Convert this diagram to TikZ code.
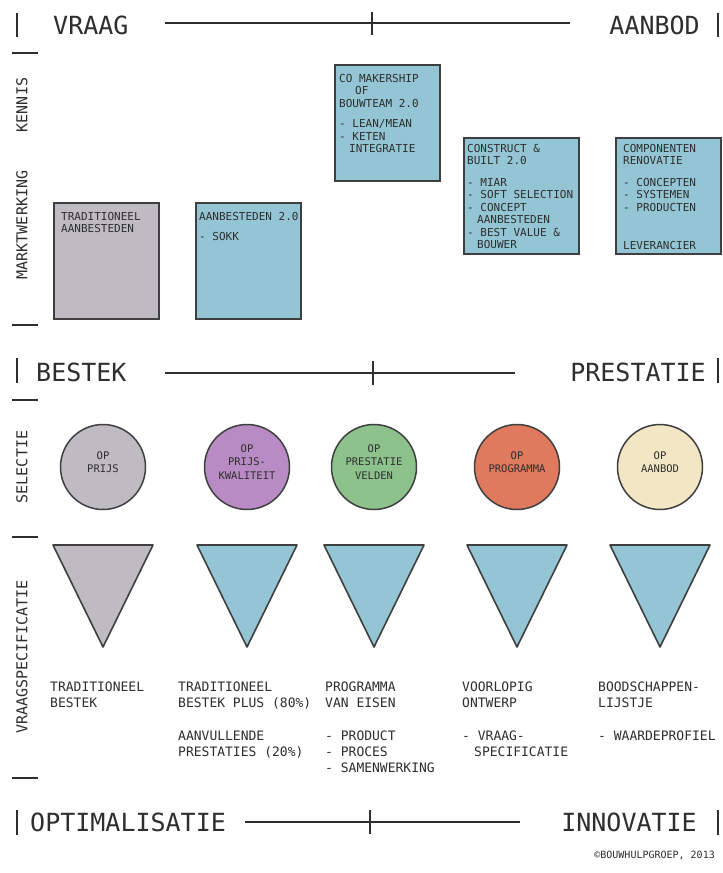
\documentclass[tikz,border=0pt]{standalone}
\usepackage{fontspec}
\setmainfont{DejaVu Sans Mono}
\usetikzlibrary{positioning,calc}

\definecolor{ink}{HTML}{2E2E2E}
\definecolor{edge}{HTML}{3F3F3F}
\definecolor{boxgray}{HTML}{BFBBC3}
\definecolor{boxblue}{HTML}{94C5D4}
\definecolor{selpurple}{HTML}{B98BC4}
\definecolor{selgreen}{HTML}{8DC28D}
\definecolor{selorange}{HTML}{E07A5F}
\definecolor{selcream}{HTML}{F2E6C4}

\tikzset{
  biglabel/.style={inner sep=0pt, text=ink, font=\fontsize{25}{28}\selectfont},
  sidelabel/.style={inner sep=0pt, text=ink, rotate=90, font=\fontsize{15}{17}\selectfont},
  axis/.style={draw=ink, line width=1.6pt},
  frame/.style={draw=edge, line width=2.4pt, anchor=north west, inner sep=0pt,
    minimum width=105pt, minimum height=116pt},
  boxtext/.style={anchor=north west, align=left, inner sep=0pt, text=ink,
    font=\fontsize{11}{12.5}\selectfont},
  selcircle/.style={circle, draw=edge, line width=1.5pt, minimum size=85pt, inner sep=0pt},
  seltext/.style={align=center, inner sep=0pt, text=ink, font=\fontsize{10.5}{13.5}\selectfont},
  tri/.style={draw=edge, line width=1.6pt, line join=round},
  spectext/.style={anchor=north west, align=left, inner sep=0pt, text=ink,
    font=\fontsize{13}{16}\selectfont}
}
\newcommand{\selnode}[4]{\node [selcircle, fill=#3] (#1) at (#2) {};
  \node [seltext] (#1txt) at ([yshift=5pt]#1.center) {#4}}
\newcommand{\spectri}[2]{\draw [tri, fill=#2] ($(#1)+(-50,78)$) -- ($(#1)+(50,78)$) -- ($(#1)+(0,180)$) -- cycle}

\begin{document}
\begin{tikzpicture}[x=1pt,y=-1pt]
\fill[white] (0,0) rectangle (723,873);
\useasboundingbox (0,0) rectangle (723,873);

% vraag - aanbod
\node [biglabel, anchor=west] (vraag) at (53,25) {VRAAG};
\node [biglabel, anchor=east] (aanbod) at (700,25) {AANBOD};
\coordinate (vraagL) at (165,23);
\coordinate (vraagR) at (570,23);
\draw [axis] (vraagL) -- (vraagR);
\draw [axis] (372,12) -- (372,35);
\draw [axis] (17,13) -- (17,37);
\draw [axis] (718,13) -- (718,37);

% left axis
\draw [axis] (12,53) -- (38,53);
\draw [axis] (12,325) -- (38,325);
\draw [axis] (12,400) -- (38,400);
\draw [axis] (12,537) -- (38,537);
\draw [axis] (12,778) -- (38,778);
\node [sidelabel] (kennis) at (22,105) {KENNIS};
\node [sidelabel] (markt) at (22,225) {MARKTWERKING};
\node [sidelabel] (selectie) at (22,467) {SELECTIE};
\node [sidelabel] (vraagspec) at (22,657) {VRAAGSPECIFICATIE};

% aanbesteden
\node [frame, fill=boxgray] (trad) at (53,202) {};
\node [boxtext] (tradtxt) at ([shift={(8pt,-10pt)}]trad.north west) {TRADITIONEEL\\AANBESTEDEN};
\node [frame, fill=boxblue] (aanb) at (195,202) {};
\node [boxtext] (aanbtxt) at ([shift={(4pt,-10pt)}]aanb.north west) {AANBESTEDEN 2.0\\[8pt]- SOKK};
\node [frame, fill=boxblue] (comak) at (334,64) {};
\node [boxtext] (comaktxt) at ([shift={(5pt,-10pt)}]comak.north west)
  {CO MAKERSHIP\\\hspace*{16pt}OF\\BOUWTEAM 2.0\\[8pt]- LEAN/MEAN\\- KETEN\\\hspace*{10pt}INTEGRATIE};
\node [frame, fill=boxblue, minimum width=115pt] (constr) at (463,137) {};
\node [boxtext] (constrtxt) at ([shift={(4pt,-7pt)}]constr.north west)
  {CONSTRUCT \&\\BUILT 2.0\\[9pt]- MIAR\\- SOFT SELECTION\\- CONCEPT\\\hspace*{10pt}AANBESTEDEN\\- BEST VALUE \&\\\hspace*{10pt}BOUWER};
\node [frame, fill=boxblue] (compon) at (615,137) {};
\node [boxtext] (compontxt) at ([shift={(8pt,-7pt)}]compon.north west)
  {COMPONENTEN\\RENOVATIE\\[9pt]- CONCEPTEN\\- SYSTEMEN\\- PRODUCTEN};
\node [boxtext, anchor=south west] (levtxt) at ([shift={(8pt,6pt)}]compon.south west) {LEVERANCIER};

% bestek - prestatie
\node [biglabel, anchor=west] (bestek) at (36,372) {BESTEK};
\node [biglabel, anchor=east] (prestatie) at (706,372) {PRESTATIE};
\coordinate (bestekL) at (165,373);
\coordinate (bestekR) at (515,373);
\draw [axis] (bestekL) -- (bestekR);
\draw [axis] (373,361) -- (373,385);
\draw [axis] (17,358) -- (17,383);
\draw [axis] (718,358) -- (718,383);

% selectie
\selnode{sel1}{103,467}{boxgray}{OP\\PRIJS};
\selnode{sel2}{247,467}{selpurple}{OP\\PRIJS-\\KWALITEIT};
\selnode{sel3}{374,467}{selgreen}{OP\\PRESTATIE\\VELDEN};
\selnode{sel4}{517,467}{selorange}{OP\\PROGRAMMA};
\selnode{sel5}{660,467}{selcream}{OP\\AANBOD};

% vraagspecificatie
\spectri{sel1}{boxgray};
\spectri{sel2}{boxblue};
\spectri{sel3}{boxblue};
\spectri{sel4}{boxblue};
\spectri{sel5}{boxblue};
\node [spectext] (spec1) at (50,682) {TRADITIONEEL\\BESTEK};
\node [spectext] (spec2) at (178,682) {TRADITIONEEL\\BESTEK PLUS (80\%)};
\node [spectext] (spec3) at (325,682) {PROGRAMMA\\VAN EISEN};
\node [spectext] (spec4) at (462,682) {VOORLOPIG\\ONTWERP};
\node [spectext] (spec5) at (598,682) {BOODSCHAPPEN-\\LIJSTJE};
\node [spectext] (extra2) at (178,731) {AANVULLENDE\\PRESTATIES (20\%)};
\node [spectext] (extra3) at (325,731) {- PRODUCT\\- PROCES\\- SAMENWERKING};
\node [spectext] (extra4) at (462,731) {- VRAAG-\\\hspace*{12pt}SPECIFICATIE};
\node [spectext] (extra5) at (598,731) {- WAARDEPROFIEL};

% optimalisatie - innovatie
\node [biglabel, anchor=west] (optim) at (30,822) {OPTIMALISATIE};
\node [biglabel, anchor=east] (innov) at (697,822) {INNOVATIE};
\coordinate (optimL) at (245,822);
\coordinate (optimR) at (520,822);
\draw [axis] (optimL) -- (optimR);
\draw [axis] (370,810) -- (370,834);
\draw [axis] (17,810) -- (17,835);
\draw [axis] (718,810) -- (718,835);

\node [anchor=east, inner sep=0pt, text=ink, font=\fontsize{10}{12}\selectfont] (copy) at (715,855) {©BOUWHULPGROEP, 2013};
\end{tikzpicture}
\end{document}
